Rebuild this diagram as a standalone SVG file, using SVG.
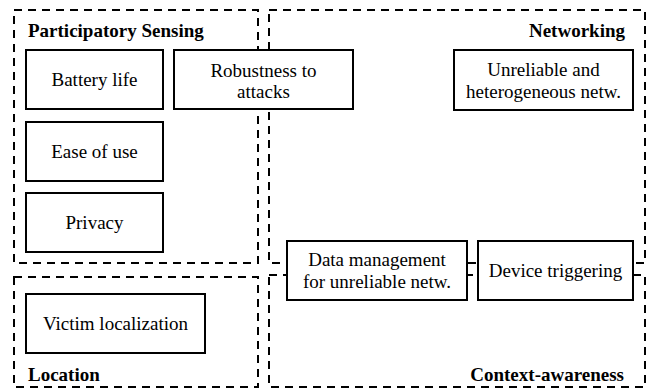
<svg xmlns="http://www.w3.org/2000/svg" width="652" height="390" viewBox="0 0 652 390">
<rect width="652" height="390" fill="#fff"/>
<g id="groups" fill="none" stroke="#000" stroke-width="2" stroke-dasharray="8 6">
<rect x="14" y="10" width="244" height="253"/>
<rect x="269" y="10" width="376" height="253"/>
<rect x="14" y="277" width="244" height="110"/>
<rect x="269" y="275" width="376" height="112"/>
</g>
<g id="connectors"></g>
<g id="battery-life"><rect fill="#fff" stroke="#000" stroke-width="2" x="26" y="50" width="137" height="59"/></g>
<g id="robustness"><rect fill="#fff" stroke="#000" stroke-width="2" x="174" y="50" width="179" height="59"/></g>
<g id="unreliable"><rect fill="#fff" stroke="#000" stroke-width="2" x="454" y="50" width="179" height="60"/></g>
<g id="ease-of-use"><rect fill="#fff" stroke="#000" stroke-width="2" x="26" y="122" width="137" height="59"/></g>
<g id="privacy"><rect fill="#fff" stroke="#000" stroke-width="2" x="26" y="193" width="137" height="59"/></g>
<g id="victim-localization"><rect fill="#fff" stroke="#000" stroke-width="2" x="26" y="294" width="179" height="59"/></g>
<g id="data-management"><rect fill="#fff" stroke="#000" stroke-width="2" x="287" y="241" width="180" height="59"/></g>
<g id="device-triggering"><rect fill="#fff" stroke="#000" stroke-width="2" x="478" y="241" width="155" height="59"/></g>
<text x="28" y="37" font-family="Liberation Serif" font-size="19" font-weight="bold">Participatory Sensing</text>
<text x="625" y="37" font-family="Liberation Serif" font-size="19" font-weight="bold" text-anchor="end">Networking</text>
<text x="28" y="381" font-family="Liberation Serif" font-size="19" font-weight="bold">Location</text>
<text x="624" y="381" font-family="Liberation Serif" font-size="19" font-weight="bold" text-anchor="end">Context-awareness</text>
<text x="94.5" y="86" font-family="Liberation Serif" font-size="19" text-anchor="middle">Battery life</text>
<text x="263.5" y="77" font-family="Liberation Serif" font-size="19" text-anchor="middle">Robustness to</text>
<text x="263.5" y="98" font-family="Liberation Serif" font-size="19" text-anchor="middle">attacks</text>
<text x="543.5" y="76" font-family="Liberation Serif" font-size="19" text-anchor="middle">Unreliable and</text>
<text x="543.5" y="98" font-family="Liberation Serif" font-size="19" text-anchor="middle">heterogeneous netw.</text>
<text x="94.5" y="158" font-family="Liberation Serif" font-size="19" text-anchor="middle">Ease of use</text>
<text x="94.5" y="229" font-family="Liberation Serif" font-size="19" text-anchor="middle">Privacy</text>
<text x="115.5" y="330" font-family="Liberation Serif" font-size="19" text-anchor="middle">Victim localization</text>
<text x="377" y="265.5" font-family="Liberation Serif" font-size="19" text-anchor="middle">Data management</text>
<text x="377" y="288" font-family="Liberation Serif" font-size="19" text-anchor="middle">for unreliable netw.</text>
<text x="555.5" y="277" font-family="Liberation Serif" font-size="19" text-anchor="middle">Device triggering</text>
</svg>
